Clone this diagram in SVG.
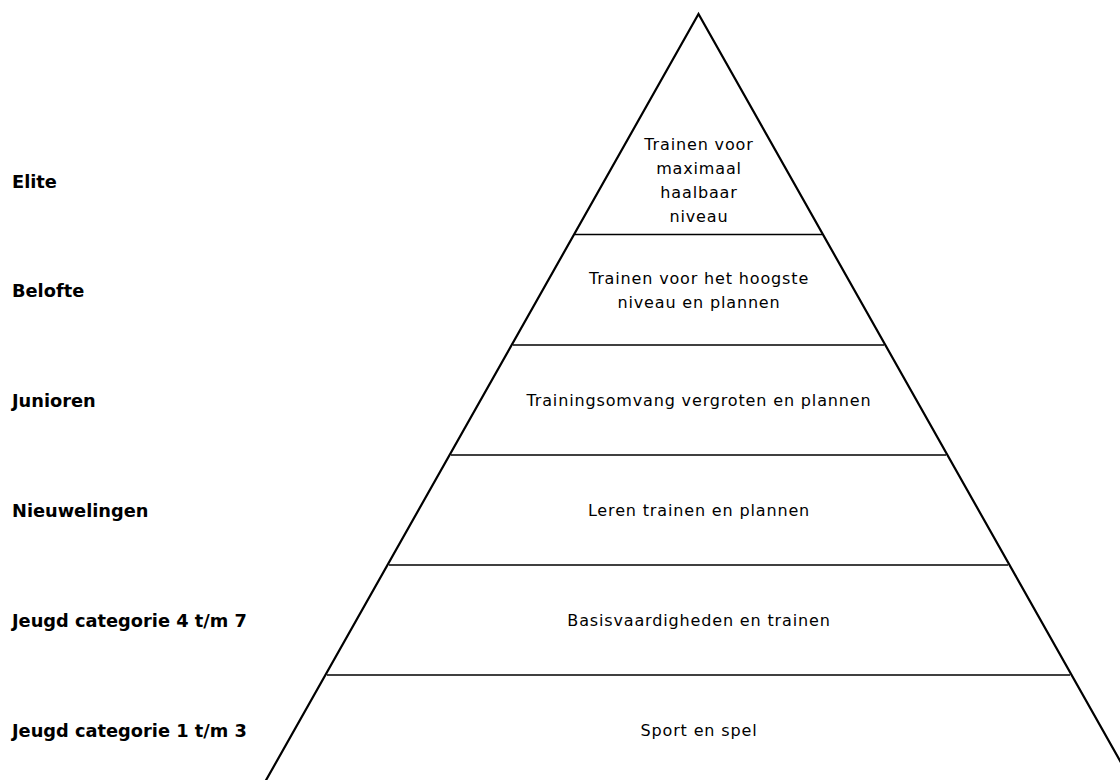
<svg xmlns="http://www.w3.org/2000/svg" width="1120" height="780" viewBox="0 0 1120 780">
<style>
.side{stroke:#000;stroke-width:2.2;fill:none;stroke-linecap:round}
.div{stroke:#000;stroke-width:1.6}
.lbl{font-family:"DejaVu Sans",Verdana,sans-serif;font-weight:bold;font-size:17.8px;fill:#000}
.txt{font-family:"DejaVu Sans",sans-serif;font-size:16px;letter-spacing:0.85px;fill:#000;text-anchor:middle}
</style>
<rect width="1120" height="780" fill="#fff"/>
<g id="pyramid">
<path class="side" d="M265,782 L698.5,14 L1132,782"/>
</g>
<g id="connectors">
<line class="div" x1="575" y1="234.5" x2="822" y2="234.5"/>
<line class="div" x1="513" y1="345" x2="884" y2="345"/>
<line class="div" x1="451" y1="455" x2="946" y2="455"/>
<line class="div" x1="389" y1="565" x2="1008" y2="565"/>
<line class="div" x1="327" y1="675" x2="1070" y2="675"/>
</g>
<g id="elite">
<text class="lbl" x="12" y="188">Elite</text>
<text class="txt" x="699" y="149.5">Trainen voor</text>
<text class="txt" x="699" y="173.5">maximaal</text>
<text class="txt" x="699" y="197.5">haalbaar</text>
<text class="txt" x="699" y="221.5">niveau</text>
</g>
<g id="belofte">
<text class="lbl" x="12" y="297">Belofte</text>
<text class="txt" x="699" y="283.5">Trainen voor het hoogste</text>
<text class="txt" x="699" y="307.5">niveau en plannen</text>
</g>
<g id="junioren">
<text class="lbl" x="12" y="407">Junioren</text>
<text class="txt" x="699" y="406">Trainingsomvang vergroten en plannen</text>
</g>
<g id="nieuwelingen">
<text class="lbl" x="12" y="517">Nieuwelingen</text>
<text class="txt" x="699" y="516">Leren trainen en plannen</text>
</g>
<g id="jeugd47">
<text class="lbl" x="12" y="627">Jeugd categorie 4 t/m 7</text>
<text class="txt" x="699" y="626">Basisvaardigheden en trainen</text>
</g>
<g id="jeugd13">
<text class="lbl" x="12" y="737">Jeugd categorie 1 t/m 3</text>
<text class="txt" x="699" y="736">Sport en spel</text>
</g>
</svg>
